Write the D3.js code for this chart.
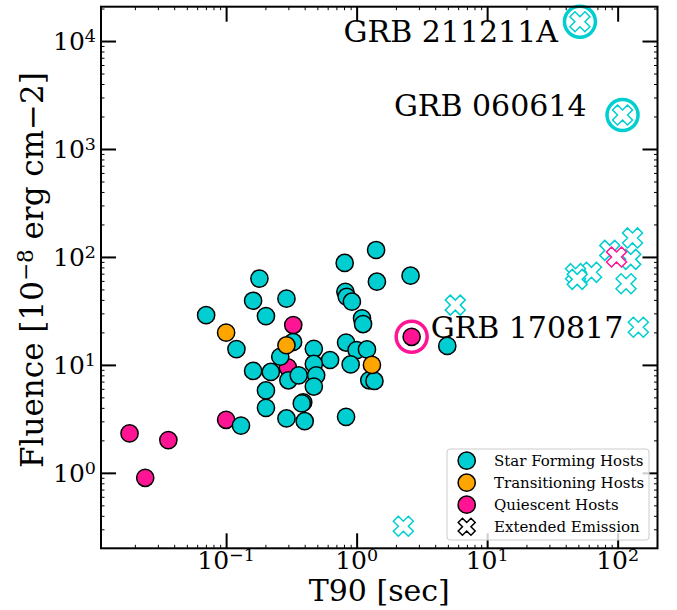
<!DOCTYPE html>
<html>
<head>
<meta charset="utf-8">
<script src="https://cdn.jsdelivr.net/npm/d3@7"></script>
<style>
body { margin: 0; background: #fff; }
text { font-family: "DejaVu Serif", serif; fill: #000; }
</style>
</head>
<body>
<script>
// Star forming hosts (T90 [s], fluence [1e-8 erg/cm2])
var sfT90 = [1.41, 0.81, 2.59, 1.43, 0.18, 0.82, 0.84, 0.92, 0.161, 0.29, 0.0703, 0.202, 1.10, 1.12,
    0.326, 0.12, 0.26, 0.83, 1.0, 1.2, 0.47, 0.626, 0.161, 0.22, 0.30, 0.36, 0.47, 0.49, 0.47,
    0.90, 1.25, 1.37, 0.202, 0.202, 0.39, 0.38, 0.130, 0.29, 0.40, 0.83, 4.95];
var sfFluence = [116, 88, 67, 59, 63, 47.6, 42.8, 38.5, 39.3, 41.1, 28.9, 28.3, 27, 23.9,
    16.3, 14.0, 11.9, 16.1, 13.7, 13.9, 14.1, 11.1, 8.8, 8.6, 7.2, 8.0, 10.2, 8.0, 6.3,
    10.1, 7.2, 7.1, 5.8, 4.0, 4.5, 4.4, 2.74, 3.19, 3.01, 3.3, 15.0];

// Transitioning hosts
var trT90 = [0.1, 0.29, 1.31];
var trFluence = [19.9, 15.2, 10.0];

// Quiescent hosts
var qT90 = [0.327, 0.297, 0.1, 0.0182, 0.0361, 0.024];
var qFluence = [23.4, 9.5, 3.1, 2.32, 2.01, 0.90];

// Extended emission bursts (host class: sf / q)
var eeT90 = [130, 87, 126, 63, 47.6, 49, 116, 5.7, 144, 2.28, 98];
var eeFluence = [150, 115, 95, 72, 70, 62, 56.5, 35.8, 22.3, 0.32, 100];
var eeHost = ["sf", "sf", "sf", "sf", "sf", "sf", "sf", "sf", "sf", "sf", "q"];

// Named bursts
var namedLabel = ["GRB 211211A", "GRB 060614", "GRB 170817"];
var namedT90 = [51.4, 109, 2.64];
var namedFluence = [15100, 2066, 18.2];
var namedKind = ["ee", "ee", "q"];

var legendLabels = ["Star Forming Hosts", "Transitioning Hosts", "Quiescent Hosts", "Extended Emission"];

var xTicks = [0.1, 1, 10, 100];
var xTickExp = ["\u22121", "0", "1", "2"];
var yTicks = [1, 10, 100, 1000, 10000];
var yTickExp = ["0", "1", "2", "3", "4"];

var W = 677, H = 610;
var plot = { left: 101, right: 657.5, top: 6.7, bottom: 548.3 };

var colors = { sf: "#00ced1", tr: "#ffa500", q: "#ff1493" };

var x = d3.scaleLog().domain([0.011, 202]).range([plot.left, plot.right]);
var y = d3.scaleLog().domain([0.2, 20800]).range([plot.bottom, plot.top]);

var svg = d3.select("body").append("svg")
    .attr("width", W)
    .attr("height", H);

// matplotlib 'X' marker outline
function xMarker(size) {
    var pts = [[-1, -2], [0, -1], [1, -2], [2, -1], [1, 0], [2, 1], [1, 2], [0, 1], [-1, 2], [-2, 1], [-1, 0], [-2, -1]];
    var s = size / 4;
    return "M" + pts.map(function (p) { return (p[0] * s) + "," + (p[1] * s); }).join("L") + "Z";
}

// minor tick values
function minors(lo, hi) {
    var out = [];
    for (var d = lo; d <= hi; d++) {
        for (var k = 2; k <= 9; k++) out.push(k * Math.pow(10, d));
    }
    return out;
}
var xMinor = minors(-2, 2).filter(function (v) { return v > 0.011 && v < 202; });
var yMinor = minors(-1, 4).filter(function (v) { return v > 0.2 && v < 20800; });

// axes: ticks point inward on all four sides
function styleAxis(g, w) {
    g.select(".domain").remove();
    g.selectAll("line").attr("stroke", "#000").attr("stroke-width", w);
}
var axes = svg.append("g");
[["bottom", plot.bottom], ["top", plot.top]].forEach(function (a) {
    var mk = a[0] === "bottom" ? d3.axisBottom : d3.axisTop;
    axes.append("g").attr("transform", "translate(0," + a[1] + ")")
        .call(mk(x).tickValues(xTicks).tickSizeInner(-15).tickSizeOuter(0).tickFormat(""))
        .call(styleAxis, 2);
    axes.append("g").attr("transform", "translate(0," + a[1] + ")")
        .call(mk(x).tickValues(xMinor).tickSizeInner(-3.5).tickSizeOuter(0).tickFormat(""))
        .call(styleAxis, 1);
});
[["left", plot.left], ["right", plot.right]].forEach(function (a) {
    var mk = a[0] === "left" ? d3.axisLeft : d3.axisRight;
    axes.append("g").attr("transform", "translate(" + a[1] + ",0)")
        .call(mk(y).tickValues(yTicks).tickSizeInner(-15).tickSizeOuter(0).tickFormat(""))
        .call(styleAxis, 2);
    axes.append("g").attr("transform", "translate(" + a[1] + ",0)")
        .call(mk(y).tickValues(yMinor).tickSizeInner(-3.5).tickSizeOuter(0).tickFormat(""))
        .call(styleAxis, 1);
});
axes.selectAll("text").remove();

// tick labels with superscript exponents
xTicks.forEach(function (v, i) {
    var t = svg.append("text")
        .attr("x", x(v))
        .attr("y", plot.bottom + 21)
        .attr("text-anchor", "middle")
        .style("font-size", "25px");
    t.append("tspan").text("10");
    t.append("tspan").attr("dy", -8).style("font-size", "17.5px").text(xTickExp[i]);
});
yTicks.forEach(function (v, i) {
    var t = svg.append("text")
        .attr("x", plot.left - 5)
        .attr("y", y(v) + 9)
        .attr("text-anchor", "end")
        .style("font-size", "25px");
    t.append("tspan").text("10");
    t.append("tspan").attr("dy", -8).style("font-size", "17.5px").text(yTickExp[i]);
});

// axis labels
svg.append("text")
    .attr("x", (plot.left + plot.right) / 2)
    .attr("y", 601)
    .attr("text-anchor", "middle")
    .style("font-size", "30px")
    .text("T90 [sec]");

var yl = svg.append("text")
    .attr("transform", "translate(43,270) rotate(-90)")
    .attr("text-anchor", "middle")
    .style("font-size", "31px");
yl.append("tspan").text("Fluence [10");
yl.append("tspan").attr("dy", -10).style("font-size", "21.5px").text("\u22128");
yl.append("tspan").attr("dy", 10).text(" erg cm\u22122]");

// data layer
var dataG = svg.append("g");

var qPts = qT90.map(function (t, i) { return { t: t, f: qFluence[i] }; });
var sfPts = sfT90.map(function (t, i) { return { t: t, f: sfFluence[i] }; });
var trPts = trT90.map(function (t, i) { return { t: t, f: trFluence[i] }; });

function drawCircles(pts, col) {
    dataG.selectAll(null).data(pts).enter().append("circle")
        .attr("cx", function (d) { return x(d.t); })
        .attr("cy", function (d) { return y(d.f); })
        .attr("r", 8.6)
        .attr("fill", col)
        .attr("stroke", "#000")
        .attr("stroke-width", 1.5);
}
drawCircles(qPts, colors.q);
drawCircles(sfPts, colors.sf);
drawCircles(trPts, colors.tr);

var eePts = eeT90.map(function (t, i) { return { t: t, f: eeFluence[i], h: eeHost[i] }; });
dataG.selectAll(null).data(eePts).enter().append("path")
    .attr("d", xMarker(20))
    .attr("transform", function (d) { return "translate(" + x(d.t) + "," + y(d.f) + ")"; })
    .attr("fill", "#fff")
    .attr("stroke", function (d) { return colors[d.h]; })
    .attr("stroke-width", 1.5);

// named bursts with rings
var labelOffset = [[-22, 20, "end"], [-36, 1, "end"], [19, 1, "start"]];
namedLabel.forEach(function (name, i) {
    var cx = x(namedT90[i]), cy = y(namedFluence[i]);
    var col = namedKind[i] === "ee" ? colors.sf : colors.q;
    dataG.append("circle")
        .attr("cx", cx).attr("cy", cy).attr("r", 15.5)
        .attr("fill", "#fff")
        .attr("stroke", col)
        .attr("stroke-width", 3.5);
    if (namedKind[i] === "ee") {
        dataG.append("path")
            .attr("d", xMarker(20))
            .attr("transform", "translate(" + cx + "," + cy + ")")
            .attr("fill", "#fff")
            .attr("stroke", col)
            .attr("stroke-width", 1.5);
    } else {
        dataG.append("circle")
            .attr("cx", cx).attr("cy", cy).attr("r", 8.6)
            .attr("fill", col)
            .attr("stroke", "#000")
            .attr("stroke-width", 1.5);
    }
    svg.append("text")
        .attr("x", cx + labelOffset[i][0])
        .attr("y", cy + labelOffset[i][1])
        .attr("text-anchor", labelOffset[i][2])
        .style("font-size", "30px")
        .text(name);
});

// legend
var lg = svg.append("g");
lg.append("rect")
    .attr("x", 447).attr("y", 449)
    .attr("width", 202).attr("height", 91)
    .attr("rx", 3)
    .attr("fill", "#fff").attr("fill-opacity", 0.8)
    .attr("stroke", "#cccccc").attr("stroke-width", 1);
var legendFill = [colors.sf, colors.tr, colors.q, null];
legendLabels.forEach(function (lab, i) {
    var ly = 460.7 + i * 22;
    if (legendFill[i]) {
        lg.append("circle")
            .attr("cx", 466.7).attr("cy", ly).attr("r", 8.6)
            .attr("fill", legendFill[i])
            .attr("stroke", "#000").attr("stroke-width", 1.5);
    } else {
        lg.append("path")
            .attr("d", xMarker(17))
            .attr("transform", "translate(466.7," + ly + ")")
            .attr("fill", "#fff")
            .attr("stroke", "#000").attr("stroke-width", 1.5);
    }
    lg.append("text")
        .attr("x", 494).attr("y", ly + 5)
        .style("font-size", "15px")
        .text(lab);
});

// frame
svg.append("rect")
    .attr("x", plot.left).attr("y", plot.top)
    .attr("width", plot.right - plot.left)
    .attr("height", plot.bottom - plot.top)
    .attr("fill", "none")
    .attr("stroke", "#000")
    .attr("stroke-width", 2);
</script>
</body>
</html>
